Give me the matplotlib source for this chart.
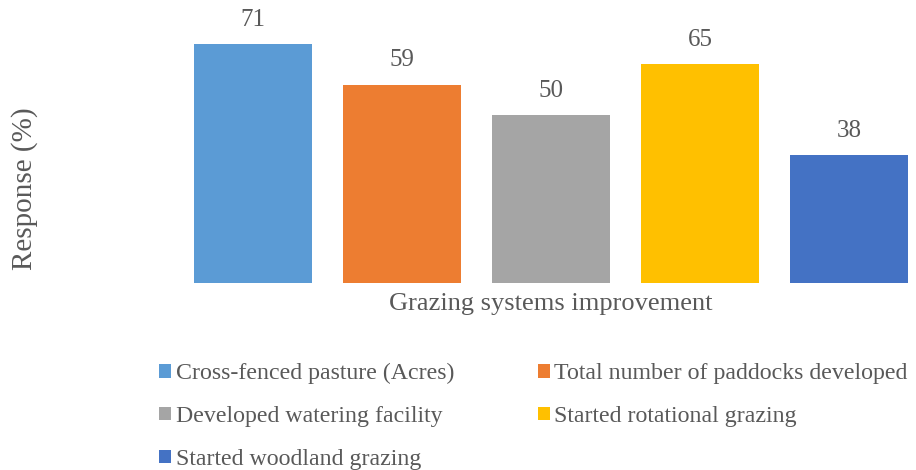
import numpy as np
import matplotlib.pyplot as plt

categories = ['Cross-fenced pasture (Acres)', 'Total number of paddocks developed',
              'Developed watering facility', 'Started rotational grazing',
              'Started woodland grazing']
values = [71, 59, 50, 65, 38]
colors = ['#5B9BD5', '#ED7D31', '#A5A5A5', '#FFC000', '#4472C4']

plt.rcParams['font.family'] = ['Liberation Serif', 'DejaVu Serif']
txt = '#595959'

fig = plt.figure(figsize=(9.16, 4.70), dpi=100)
ax = fig.add_axes([178.5 / 916, 187 / 470, 745 / 916, 269 / 470])

x = np.arange(len(values))
handles = []
for i, (v, c, lab) in enumerate(zip(values, colors, categories)):
    b = ax.bar(x[i], v, width=0.79, color=c, label=lab)
    handles.append(b)
    ax.annotate(str(v), (x[i], v), xytext=(0, 9.5), textcoords='offset points',
                ha='center', va='bottom', fontsize=18, color=txt)

ax.set_xlim(-0.5, 4.5)
ax.set_ylim(0, 80)
ax.set_xticks([])
ax.set_yticks([])
for s in ax.spines.values():
    s.set_visible(False)

ax.set_xlabel('Grazing systems improvement', fontsize=19, color=txt, labelpad=7)
fig.text(25 / 916, 1 - 189 / 470, 'Response (%)', rotation=90, fontsize=21,
         color=txt, ha='center', va='center')

# matplotlib fills legend columns first, so reorder to read across rows
order = [0, 2, 4, 1, 3]
leg = fig.legend([handles[i] for i in order], [categories[i] for i in order],
                 loc='upper left', bbox_to_anchor=(159 / 916, 1 - 363 / 470), ncol=2,
                 frameon=False, fontsize=17.2, handlelength=0.5, handleheight=0.5,
                 handletextpad=0.2, columnspacing=3.5, labelspacing=0.92,
                 borderaxespad=0, borderpad=0)
for t in leg.get_texts():
    t.set_color(txt)

fig.savefig('out.png', dpi=100)
